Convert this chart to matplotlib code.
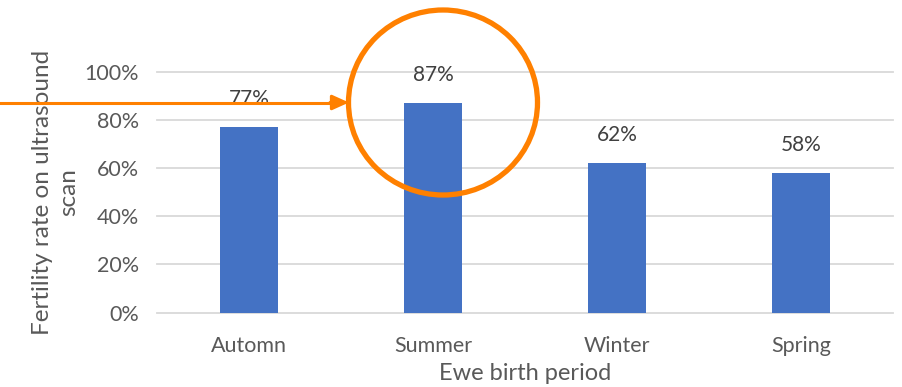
import matplotlib.pyplot as plt
from matplotlib.patches import Ellipse
from matplotlib.ticker import PercentFormatter

periods = ["Automn", "Summer", "Winter", "Spring"]
fertility = [0.77, 0.87, 0.62, 0.58]
yticks = [0.0, 0.2, 0.4, 0.6, 0.8, 1.0]

grey = "#595959"
plt.rcParams["font.family"] = ["Lato", "DejaVu Sans"]

fig = plt.figure(figsize=(9.02, 3.87), dpi=100)
ax = fig.add_axes([157/902, 1-312.7/387, 736/902, 241.2/387])

x = range(len(periods))
bars = ax.bar(x, fertility, width=0.315, color="#4472C4", zorder=3)
for xi, v in zip(x, fertility):
    ax.annotate(f"{v:.0%}", (xi, v), xytext=(0, 20), textcoords="offset points",
                ha="center", va="center", fontsize=15, color="#404040")

ax.set_xlim(-0.5, 3.5)
ax.set_ylim(0, 1)
ax.set_yticks(yticks)
ax.yaxis.set_major_formatter(PercentFormatter(1.0, decimals=0))
ax.set_xticks(list(x))
ax.set_xticklabels(periods)
for y in yticks:
    ax.axhline(y, color="#D9D9D9", lw=1.3, zorder=1, clip_on=False)
for s in ax.spines.values():
    s.set_visible(False)
ax.tick_params(length=0, labelsize=15.5, colors=grey)
ax.tick_params(axis="x", pad=17)
ax.tick_params(axis="y", pad=13)

ax.set_xlabel("Ewe birth period", fontsize=17, color=grey, labelpad=5)
ax.set_ylabel("Fertility rate on ultrasound\nscan", fontsize=17.5, color=grey,
              labelpad=4, linespacing=1.3)

# orange highlight around the summer bar
fig.patches.append(Ellipse((443/902, 1-102.5/387), 189/902, 185/387,
                           transform=fig.transFigure, fill=False,
                           ec="#FF8000", lw=3.8, zorder=10))
fig.add_artist(plt.Line2D([0, 335/902], [1-102.5/387]*2, transform=fig.transFigure,
                          color="#FF8000", lw=2.2, zorder=10))
ax.annotate("", xy=(349/902, 1-102.5/387), xycoords="figure fraction",
            xytext=(330/902, 1-102.5/387), textcoords="figure fraction",
            arrowprops=dict(arrowstyle="-|>,head_length=1.0,head_width=0.45",
                            color="#FF8000", lw=2.2, shrinkA=0, shrinkB=0),
            annotation_clip=False, zorder=10)

fig.savefig("out.png", dpi=100)
